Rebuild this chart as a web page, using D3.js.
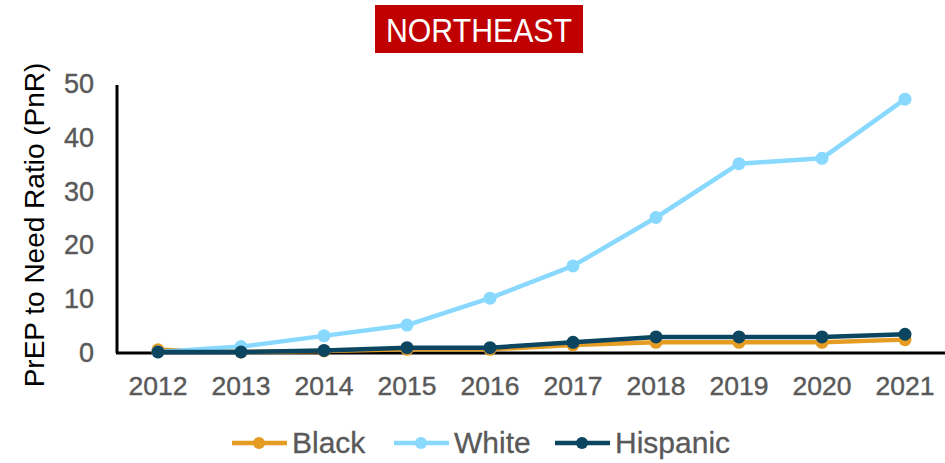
<!DOCTYPE html>
<html>
<head>
<meta charset="utf-8">
<script src="https://cdn.jsdelivr.net/npm/d3@7"></script>
<style>
  body { margin: 0; background: #fff; }
  text { font-family: "Liberation Sans", Arial, sans-serif; }
</style>
</head>
<body>
<svg width="945" height="463"></svg>
<script>
var years = ["2012","2013","2014","2015","2016","2017","2018","2019","2020","2021"];
var black = [0.4, 0, 0.2, 0.5, 0.5, 1.3, 1.8, 1.8, 1.8, 2.3];
var white = [0, 1, 3, 5, 10, 16, 25, 35, 36, 47];
var hispanic = [0, 0, 0.3, 0.8, 0.8, 1.8, 2.8, 2.8, 2.8, 3.3];
var yTicks = [0, 10, 20, 30, 40, 50];

var seriesNames = ["Black", "White", "Hispanic"];
var seriesColors = ["#E59C23", "#89D9FF", "#0B4560"];
var seriesData = [black, white, hispanic];

var svg = d3.select("svg");

var x = d3.scalePoint().domain(years).range([158, 905]);
var y = d3.scaleLinear().domain([0, 50]).range([352, 83]);

// title box
svg.append("rect")
    .attr("x", 375).attr("y", 5)
    .attr("width", 208).attr("height", 48)
    .attr("fill", "#C00000");
svg.append("text")
    .attr("x", 386).attr("y", 42)
    .attr("fill", "#fff")
    .attr("font-size", 34)
    .attr("textLength", 186)
    .attr("lengthAdjust", "spacingAndGlyphs")
    .text("NORTHEAST");

// axes lines
svg.append("line")
    .attr("x1", 117).attr("x2", 117)
    .attr("y1", 85).attr("y2", 353)
    .attr("stroke", "#000").attr("stroke-width", 3);
svg.append("line")
    .attr("x1", 116).attr("x2", 945)
    .attr("y1", 353).attr("y2", 353)
    .attr("stroke", "#000").attr("stroke-width", 3);

// y tick labels
svg.selectAll(".ytick")
    .data(yTicks)
    .enter().append("text")
    .attr("class", "ytick")
    .attr("x", 94)
    .attr("y", function(d) { return y(d) + 10; })
    .attr("text-anchor", "end")
    .attr("fill", "#595959")
    .attr("stroke", "#595959").attr("stroke-width", 0.4)
    .attr("font-size", 27)
    .text(function(d) { return d; });

// x tick labels
svg.selectAll(".xtick")
    .data(years)
    .enter().append("text")
    .attr("class", "xtick")
    .attr("x", function(d) { return x(d); })
    .attr("y", 395)
    .attr("text-anchor", "middle")
    .attr("fill", "#595959")
    .attr("stroke", "#595959").attr("stroke-width", 0.4)
    .attr("font-size", 26.5)
    .text(function(d) { return d; });

// y axis title
svg.append("text")
    .attr("transform", "translate(44,225) rotate(-90)")
    .attr("text-anchor", "middle")
    .attr("fill", "#000")
    .attr("font-size", 28)
    .text("PrEP to Need Ratio (PnR)");

var line = d3.line()
    .x(function(d, i) { return x(years[i]); })
    .y(function(d) { return y(d); });

seriesData.forEach(function(vals, k) {
  var g = svg.append("g");
  g.append("path")
      .datum(vals)
      .attr("d", line)
      .attr("fill", "none")
      .attr("stroke", seriesColors[k])
      .attr("stroke-width", 4.5)
      .attr("stroke-linejoin", "round");
  g.selectAll("circle")
      .data(vals)
      .enter().append("circle")
      .attr("cx", function(d, i) { return x(years[i]); })
      .attr("cy", function(d) { return y(d); })
      .attr("r", 6.5)
      .attr("fill", seriesColors[k]);
});

// legend
var legendX = [232, 394, 555];
var legend = svg.selectAll(".legend")
    .data(seriesNames)
    .enter().append("g")
    .attr("class", "legend")
    .attr("transform", function(d, i) { return "translate(" + legendX[i] + ",443)"; });
legend.append("line")
    .attr("x1", 0).attr("x2", 55)
    .attr("stroke", function(d, i) { return seriesColors[i]; })
    .attr("stroke-width", 4.5);
legend.append("circle")
    .attr("cx", 27).attr("r", 6)
    .attr("fill", function(d, i) { return seriesColors[i]; });
legend.append("text")
    .attr("x", 60).attr("y", 10)
    .attr("fill", "#595959")
    .attr("stroke", "#595959").attr("stroke-width", 0.3)
    .attr("font-size", 30)
    .text(function(d) { return d; });
</script>
</body>
</html>
